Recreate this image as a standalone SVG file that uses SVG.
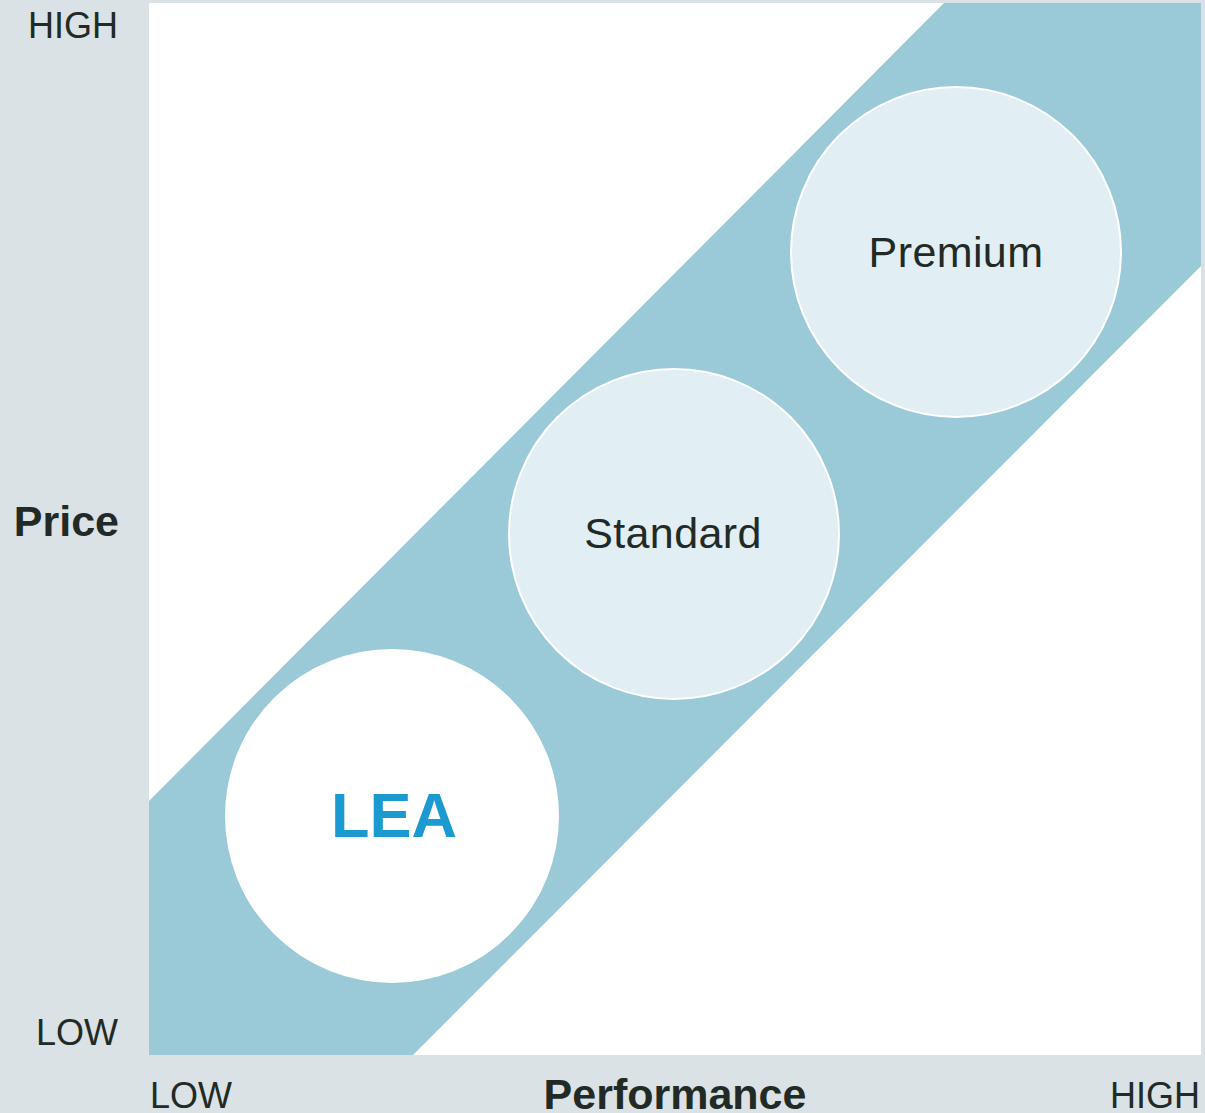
<svg xmlns="http://www.w3.org/2000/svg" width="1205" height="1113" viewBox="0 0 1205 1113">
  <style>
    .axis { font-family: "Liberation Sans", Arial, sans-serif; font-size: 36px; fill: #222a25; }
    .title { font-family: "Liberation Sans", Arial, sans-serif; font-size: 43px; font-weight: bold; fill: #222a25; }
    .tier { fill: #e1eef4; stroke: #ffffff; stroke-width: 2; }
    .label { font-family: "Liberation Sans", Arial, sans-serif; font-size: 43px; letter-spacing: 0.4px; fill: #222a25; text-anchor: middle; }
  </style>
  <!-- backdrop and plot area -->
  <rect x="0" y="0" width="1205" height="1113" fill="#dae2e6"/>
  <rect x="149" y="3" width="1052" height="1052" fill="#ffffff"/>
  <!-- diagonal price/performance band -->
  <polygon points="149,801 944,3 1201,3 1201,266 413,1055 149,1055" fill="#9ac9d7"/>

  <!-- axis labels -->
  <text class="axis" x="118" y="38" text-anchor="end">HIGH</text>
  <text class="title" x="119" y="536" text-anchor="end">Price</text>
  <text class="axis" x="118" y="1045" text-anchor="end">LOW</text>
  <text class="axis" x="150" y="1108">LOW</text>
  <text class="title" x="675" y="1109" text-anchor="middle">Performance</text>
  <text class="axis" x="1200" y="1108" text-anchor="end">HIGH</text>

  <!-- tiers -->
  <g id="premium">
    <circle class="tier" cx="956" cy="252" r="165"/>
    <text class="label" x="956" y="267">Premium</text>
  </g>
  <g id="standard">
    <circle class="tier" cx="674" cy="534" r="165"/>
    <text class="label" x="673" y="548">Standard</text>
  </g>
  <g id="lea">
    <circle cx="392" cy="816" r="166" fill="#ffffff" stroke="#ffffff" stroke-width="2"/>
    <text x="394" y="837" text-anchor="middle" font-family="'Liberation Sans', Arial, sans-serif" font-size="63" font-weight="bold" fill="#1a9ad0">LEA</text>
  </g>
  <g id="connectors"/>
</svg>
